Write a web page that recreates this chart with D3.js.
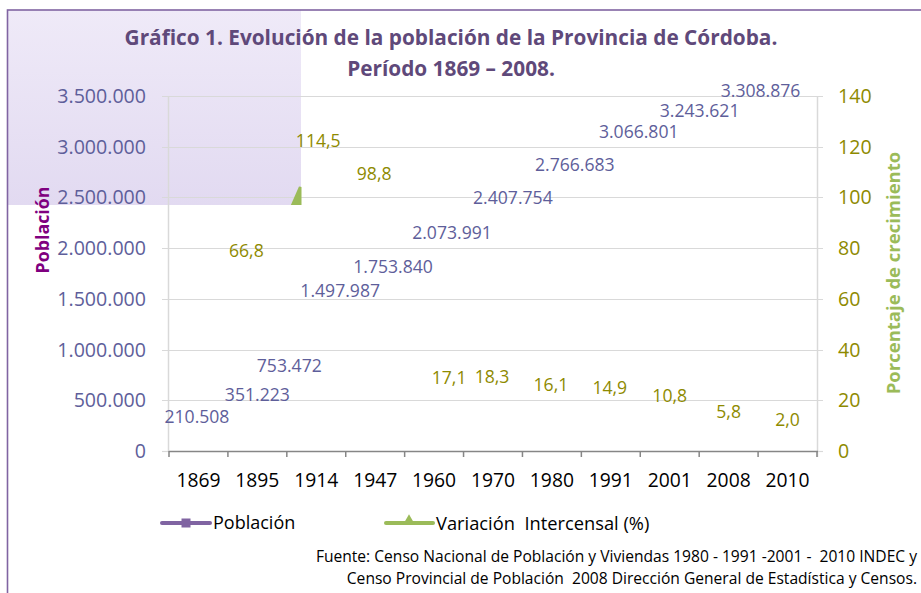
<!DOCTYPE html>
<html><head><meta charset="utf-8">
<script src="https://cdn.jsdelivr.net/npm/d3@7/dist/d3.min.js"></script>
<style>
html,body{margin:0;padding:0;background:#fff;}
svg{display:block;}
text{font-family:"Open Sans",sans-serif;}
</style></head>
<body>
<script>
// ---- data ----
const years = ["1869","1895","1914","1947","1960","1970","1980","1991","2001","2008","2010"];
const population = [210508,351223,753472,1497987,1753840,2073991,2407754,2766683,3066801,3243621,3308876];
const variation = [null,66.8,114.5,98.8,17.1,18.3,16.1,14.9,10.8,5.8,2.0];
const popTicks = [0,500000,1000000,1500000,2000000,2500000,3000000,3500000];
const varTicks = [0,20,40,60,80,100,120,140];

// ---- layout (label nudges as seen in the reference) ----
const popNudgeX = [-1.5,0,-27,-35,-41,-41,-39,-36,-31,-29,-27];
const popNudgeY = [-12.6,-21,-9,-8,-6,-7.6,-8.8,-5.4,-8,-11,-25];
const varNudgeX = [0,-11,2,-1,15,-1,-1,-1,0,0,0];
const varNudgeY = [0,-31,-20,-27,-30,-28,-26,-26,-28,-25,-26];

const W = 921, H = 593;
const m = {left:169, right:817, top:96, bottom:451};
const svg = d3.select("body").append("svg").attr("width",W).attr("height",H);

const loc = d3.formatLocale({decimal:",", thousands:".", grouping:[3], currency:["$",""]});
const fmtPop = loc.format(",d");
const fmtVar = loc.format(",.1f");

const x = d3.scaleBand().domain(years).range([m.left,m.right]).paddingInner(0).paddingOuter(0);
const yL = d3.scaleLinear().domain([0,3500000]).range([m.bottom,m.top]);
const yR = d3.scaleLinear().domain([0,140]).range([m.bottom,m.top]);

// background artefact gradient
const defs = svg.append("defs");
const g = defs.append("linearGradient").attr("id","pg").attr("x1",0).attr("y1",0).attr("x2",0).attr("y2",1);
g.append("stop").attr("offset","0%").attr("stop-color","#EFEAF8");
g.append("stop").attr("offset","100%").attr("stop-color","#E2DAF1");
svg.append("rect").attr("x",7).attr("y",10).attr("width",294).attr("height",195).attr("fill","url(#pg)");

// border
svg.append("rect").attr("x",7.5).attr("y",10).attr("width",W+20).attr("height",H+20)
  .attr("fill","none").attr("stroke","#8064A2").attr("stroke-width",1.6);

// gridlines
svg.append("g").selectAll("line").data(popTicks.slice(1)).join("line")
  .attr("x1",m.left-7).attr("x2",m.right+6)
  .attr("y1",d=>Math.round(yL(d))+0.5).attr("y2",d=>Math.round(yL(d))+0.5)
  .attr("stroke","#D9D9D9").attr("stroke-width",1.2);
// axis lines + ticks
svg.append("line").attr("x1",m.left-0.5).attr("x2",m.left-0.5).attr("y1",m.top).attr("y2",m.bottom)
  .attr("stroke","#D9D9D9").attr("stroke-width",1.5);
svg.append("line").attr("x1",m.right+0.5).attr("x2",m.right+0.5).attr("y1",m.top).attr("y2",m.bottom+6)
  .attr("stroke","#D9D9D9").attr("stroke-width",1.5);
svg.append("line").attr("x1",m.left-7).attr("x2",m.left).attr("y1",m.bottom+0.5).attr("y2",m.bottom+0.5)
  .attr("stroke","#D9D9D9").attr("stroke-width",1.2);
svg.append("line").attr("x1",m.right).attr("x2",m.right+6).attr("y1",m.bottom+0.5).attr("y2",m.bottom+0.5)
  .attr("stroke","#D9D9D9").attr("stroke-width",1.2);

// x axis
svg.append("line").attr("x1",m.left).attr("x2",m.right+1).attr("y1",m.bottom+0.5).attr("y2",m.bottom+0.5)
  .attr("stroke","#868686").attr("stroke-width",1.5);
const bounds = years.map(d=>x(d)).concat([m.right]);
svg.append("g").selectAll("line").data(bounds).join("line")
  .attr("x1",d=>d).attr("x2",d=>d).attr("y1",m.bottom).attr("y2",m.bottom+6)
  .attr("stroke","#868686").attr("stroke-width",1.5);
svg.append("g").selectAll("text").data(years).join("text")
  .attr("x",d=>x(d)+x.bandwidth()/2).attr("y",480).attr("dy","0.36em")
  .attr("text-anchor","middle").attr("font-size",19.3).attr("fill","#000").text(d=>d);

// left tick labels
svg.append("g").selectAll("text").data(popTicks).join("text")
  .attr("x",146).attr("y",d=>yL(d)).attr("dy","0.36em")
  .attr("text-anchor","end").attr("font-size",19.6).attr("fill","#5E5E9A").text(d=>fmtPop(d));
// right tick labels
svg.append("g").selectAll("text").data(varTicks).join("text")
  .attr("x",838).attr("y",d=>yR(d)).attr("dy","0.36em")
  .attr("text-anchor","start").attr("font-size",19.6).attr("fill","#8E8A00").text(d=>d);

// axis titles
svg.append("text").attr("transform","translate(49,230) rotate(-90)")
  .attr("text-anchor","middle").attr("font-size",17.8).attr("font-weight","bold").attr("fill","#7F007F").text("Población");
svg.append("text").attr("transform","translate(900,273) rotate(-90)")
  .attr("text-anchor","middle").attr("font-size",18.5).attr("font-weight","bold").attr("fill","#9BBB59").text("Porcentaje de crecimiento");

// title
svg.append("text").attr("x",451).attr("y",38).attr("dy","0.36em").attr("text-anchor","middle")
  .attr("font-size",20.8).attr("font-weight","bold").attr("fill","#5F497A")
  .text("Gráfico 1. Evolución de la población de la Provincia de Córdoba.");
svg.append("text").attr("x",451).attr("y",69).attr("dy","0.36em").attr("text-anchor","middle")
  .attr("font-size",20.8).attr("font-weight","bold").attr("fill","#5F497A")
  .text("Período 1869 – 2008.");

// small green marker artefact, clipped by the shaded box
defs.append("clipPath").attr("id","cb").append("rect").attr("x",7).attr("y",10).attr("width",294.5).attr("height",195);
svg.append("g").attr("clip-path","url(#cb)")
  .append("path")
  .attr("d",d3.line()([[290,207],[299,186.5],[303,187],[303,207]]) + "Z")
  .attr("fill","#9BBB59");

// population labels
const cx = i => x(years[i]) + x.bandwidth()/2;
svg.append("g").selectAll("text").data(population).join("text")
  .attr("x",(d,i)=>cx(i)+popNudgeX[i]).attr("y",(d,i)=>yL(d)+popNudgeY[i]).attr("dy","0.36em")
  .attr("text-anchor","middle").attr("font-size",17.6).attr("fill","#5E5E9A").text(d=>fmtPop(d));
// variation labels
svg.append("g").selectAll("text").data(variation.map((v,i)=>({v,i})).filter(d=>d.v!=null)).join("text")
  .attr("x",d=>cx(d.i)+varNudgeX[d.i]).attr("y",d=>yR(d.v)+varNudgeY[d.i]).attr("dy","0.36em")
  .attr("text-anchor","middle").attr("font-size",17.6).attr("fill","#8E8A00").text(d=>fmtVar(d.v));

// legend
const lg = svg.append("g");
lg.append("line").attr("x1",162).attr("x2",210).attr("y1",523).attr("y2",523).attr("stroke","#8064A2").attr("stroke-width",4).attr("stroke-linecap","round");
lg.append("rect").attr("x",181.5).attr("y",518.5).attr("width",9).attr("height",9).attr("fill","#8064A2");
lg.append("text").attr("x",213).attr("y",523).attr("dy","0.36em").attr("font-size",18).attr("fill","#000").text("Población");
lg.append("line").attr("x1",386).attr("x2",433).attr("y1",523).attr("y2",523).attr("stroke","#9BBB59").attr("stroke-width",4).attr("stroke-linecap","round");
lg.append("path").attr("d",d3.symbol(d3.symbolTriangle,60)()).attr("transform","translate(409,521)").attr("fill","#9BBB59");
lg.append("text").attr("x",436).attr("y",523).attr("dy","0.36em").attr("font-size",18.3).attr("fill","#000").attr("xml:space","preserve").text("Variación  Intercensal (%)");

// source
svg.append("text").attr("x",917).attr("y",556).attr("dy","0.36em").attr("text-anchor","end").attr("font-size",15.6).attr("fill","#000")
  .attr("xml:space","preserve").text("Fuente: Censo Nacional de Población y Viviendas 1980 - 1991 -2001 -  2010 INDEC y");
svg.append("text").attr("x",917).attr("y",578).attr("dy","0.36em").attr("text-anchor","end").attr("font-size",15.6).attr("fill","#000")
  .attr("xml:space","preserve").text("Censo Provincial de Población  2008 Dirección General de Estadística y Censos.");
</script>
</body></html>
